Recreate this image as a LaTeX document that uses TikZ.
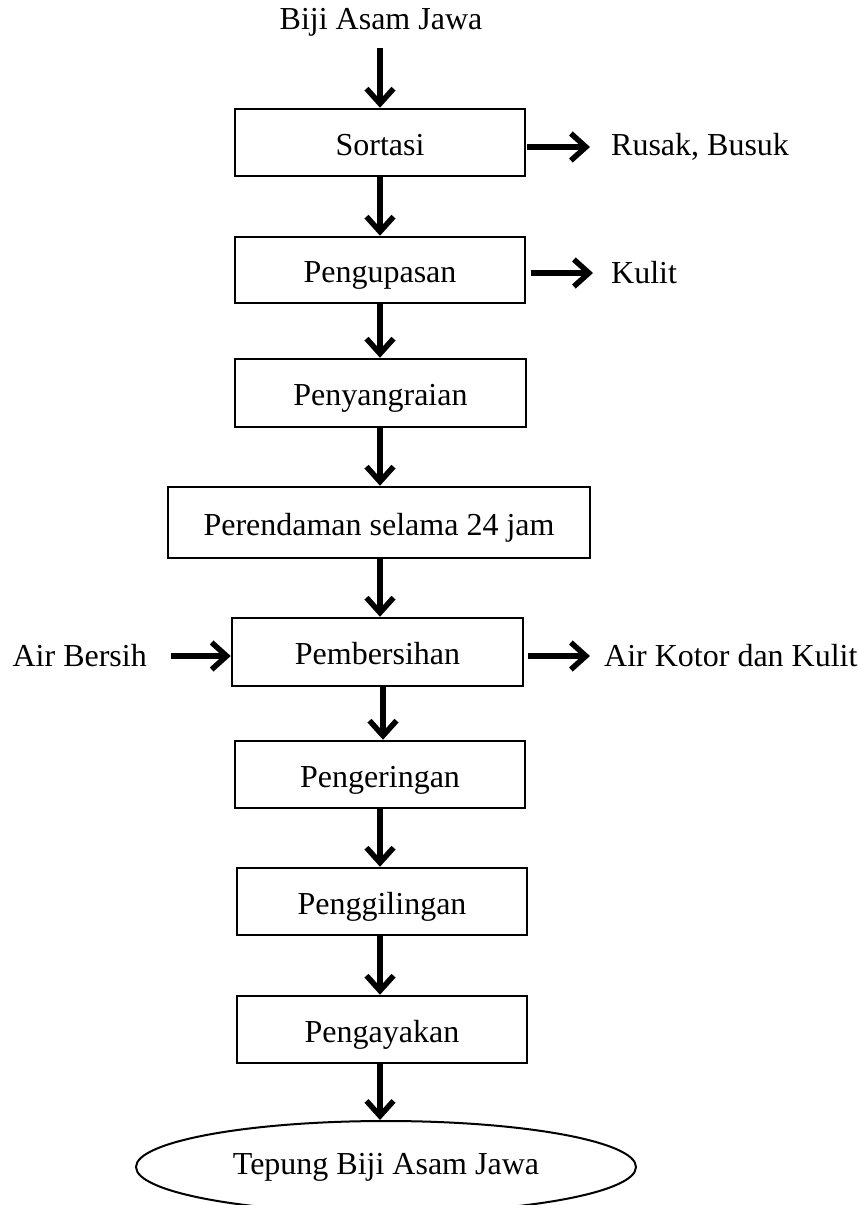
\documentclass[tikz,border=0pt]{standalone}
\usepackage{fontspec}
\setmainfont{Liberation Serif}
\usetikzlibrary{arrows.meta,shapes.geometric}
\begin{document}
\begin{tikzpicture}[x=1pt,y=-1pt,
  font=\fontsize{32}{38}\selectfont,
  procbox/.style={draw=black,line width=2.5pt,rectangle,inner sep=0pt,minimum height=67pt,text height=25pt,text depth=0pt},
  lbl/.style={inner sep=0pt},
  arr/.style={line width=6pt,-{Straight Barb[length=15pt,width=27pt,line width=5.5pt]}}
]
\useasboundingbox (0,0) rectangle (858,1205);
\node[lbl] (src) at (381,22) {Biji Asam Jawa};
\node[procbox,minimum width=290pt] (s1) at (380,142.5) {Sortasi};
\node[procbox,minimum width=290pt,minimum height=66pt] (s2) at (380,270) {Pengupasan};
\node[procbox,minimum width=291pt,minimum height=68pt] (s3) at (380.5,393) {Penyangraian};
\node[procbox,minimum width=422pt,minimum height=71pt] (s4) at (379,522.5) {Perendaman selama 24 jam};
\node[procbox,minimum width=291pt,minimum height=68pt] (s5) at (377.5,652) {Pembersihan};
\node[procbox,minimum width=290pt] (s6) at (380,774.5) {Pengeringan};
\node[procbox,minimum width=290pt] (s7) at (382,901.5) {Penggilingan};
\node[procbox,minimum width=290pt] (s8) at (382,1029.5) {Pengayakan};
\node[draw=black,line width=2pt,ellipse,minimum width=500pt,minimum height=92pt,inner sep=0pt] (out) at (386,1167) {Tepung Biji Asam Jawa};
\node[lbl,anchor=west] (o1) at (611,147) {Rusak, Busuk};
\node[lbl,anchor=west] (o2) at (611,273) {Kulit};
\node[lbl,anchor=west] (o3) at (604,656) {Air Kotor dan Kulit};
\node[lbl,anchor=east] (i1) at (147,656) {Air Bersih};

\coordinate (a0) at (380,48);
\draw[arr] (a0) -- (a0 |- s1.north);
\draw[arr] (s1.south -| a0) -- (a0 |- s2.north);
\draw[arr] (s2.south -| a0) -- (a0 |- s3.north);
\draw[arr] (s3.south -| a0) -- (a0 |- s4.north);
\draw[arr] (s4.south -| a0) -- (a0 |- s5.north);
\draw[arr] ([xshift=3pt]s5.south -| a0) -- ([xshift=3pt]a0 |- s6.north);
\draw[arr] (s6.south -| a0) -- (a0 |- s7.north);
\draw[arr] (s7.south -| a0) -- (a0 |- s8.north);
\draw[arr] (s8.south -| a0) -- (a0 |- out.north);

\draw[arr,shorten >=21pt] ([xshift=1pt]s1.east |- o1.west) -- (o1.west);
\draw[arr,shorten >=18pt] ([xshift=5pt]s2.east |- o2.west) -- (o2.west);
\draw[arr,shorten >=14pt] ([xshift=4pt]s5.east |- o3.west) -- (o3.west);
\draw[arr,shorten <=24pt] (i1.east) -- (s5.west |- i1.east);
\end{tikzpicture}
\end{document}
